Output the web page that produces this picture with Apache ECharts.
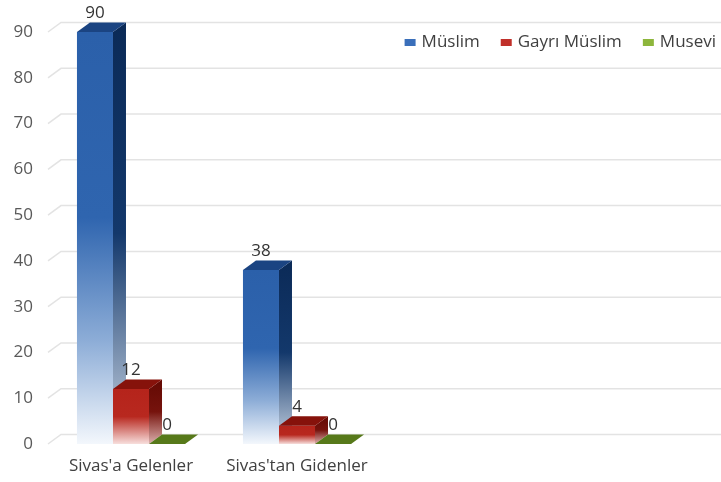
<!DOCTYPE html>
<html>
<head>
<meta charset="utf-8">
<script src="https://cdn.jsdelivr.net/npm/echarts@6/dist/echarts.min.js"></script>
<style>
html,body{margin:0;padding:0;background:#fff;}
#c{width:721px;height:482px;}
</style>
</head>
<body>
<div id="c"></div>
<script>
var categories = ["Sivas'a Gelenler", "Sivas'tan Gidenler"];
var seriesNames = ["Müslim", "Gayrı Müslim", "Musevi"];
var muslim = [90, 38];
var gayriMuslim = [12, 4];
var musevi = [0, 0];
var yTicks = [0, 10, 20, 30, 40, 50, 60, 70, 80, 90];

var FONT = "'Open Sans', sans-serif";
var DX = 13, DY = 9.5;

var palettes = [
  { legend: '#3a6fba', top: '#1b4482',
    front: [[0,'#2b60aa'],[0.45,'#2f65af'],[0.75,'#8dadd7'],[1,'#f3f7fc']],
    side: [[0,'#0b2a57'],[0.5,'#13386b'],[1,'#c9d5e4']] },
  { legend: '#c0302a', top: '#86120b',
    front: [[0,'#b5241b'],[0.5,'#b8281f'],[1,'#f7dedc']],
    side: [[0,'#630903'],[0.5,'#76130d'],[1,'#dcb0ae']] },
  { legend: '#8db63c', top: '#57791a',
    front: [[0,'#6d9a22'],[1,'#e8f0d8']],
    side: [[0,'#3f5a0c'],[1,'#c8d6a8']] }
];

function grad(stops) {
  return new echarts.graphic.LinearGradient(0, 0, 0, 1,
    stops.map(function (s) { return { offset: s[0], color: s[1] }; }));
}

function barRender(idx) {
  return function (params, api) {
    var cat = api.value(0);
    var val = api.value(1);
    var top = api.coord([cat, val]);
    var base = api.coord([cat, 0]);
    var band = api.size([1, 0])[0];
    var bw = band * 0.217;
    var x0 = top[0] - 1.5 * bw + idx * bw;
    var yT = top[1], yB = base[1];
    var p = palettes[idx];
    var children = [];
    var h = yB - yT;
    if (h > 0.5) {
      children.push({ type: 'rect', shape: { x: x0, y: yT, width: bw, height: h },
        style: { fill: grad(p.front) } });
      children.push({ type: 'polygon', shape: { points: [
        [x0 + bw, yT], [x0 + bw + DX, yT - DY], [x0 + bw + DX, yB - DY], [x0 + bw, yB]] },
        style: { fill: grad(p.side) } });
    }
    children.push({ type: 'polygon', shape: { points: [
      [x0, yT], [x0 + DX, yT - DY], [x0 + bw + DX, yT - DY], [x0 + bw, yT]] },
      style: { fill: p.top } });
    children.push({ type: 'text', style: {
      text: String(val), x: x0 + bw / 2, y: yT - DY - 1,
      align: 'center', verticalAlign: 'bottom',
      fill: '#333333', font: '17px ' + FONT } });
    return { type: 'group', children: children };
  };
}

function gridRender(params, api) {
  var y = api.coord([0, api.value(1)])[1];
  var x0 = params.coordSys.x;
  return { type: 'polyline', shape: { points: [
    [x0, y], [x0 + DX, y - DY], [api.getWidth(), y - DY]] },
    style: { stroke: '#e3e3e3', lineWidth: 1.5, fill: null } };
}

var datasets = [muslim, gayriMuslim, musevi];
var series = [{
  type: 'custom', name: '_grid', renderItem: gridRender, z: 1,
  silent: true, encode: { x: 0, y: 1 },
  data: yTicks.map(function (v) { return [0, v]; })
}];
datasets.forEach(function (d, i) {
  series.push({
    type: 'custom', name: seriesNames[i], renderItem: barRender(i), z: 2 + i,
    itemStyle: { color: palettes[i].legend },
    encode: { x: 0, y: 1 },
    data: d.map(function (v, k) { return [k, v]; })
  });
});

var chart = echarts.init(document.getElementById('c'));
chart.setOption({
  animation: false,
  backgroundColor: '#ffffff',
  textStyle: { fontFamily: FONT },
  grid: { left: 48, right: 341, top: 32, bottom: 38, containLabel: false },
  legend: {
    data: seriesNames.map(function (n) { return { name: n, icon: 'rect' }; }),
    right: 0, top: 29, itemWidth: 11, itemHeight: 7, itemGap: 21,
    textStyle: { fontSize: 17, color: '#404040', fontFamily: FONT, padding: [0, 0, 0, 1] }
  },
  xAxis: {
    type: 'category', data: categories,
    axisLine: { show: false }, axisTick: { show: false },
    axisLabel: { interval: 0, margin: 14, fontSize: 17, color: '#404040', fontFamily: FONT }
  },
  yAxis: {
    type: 'value', min: 0, max: 90, interval: 10,
    axisLine: { show: false }, axisTick: { show: false }, splitLine: { show: false },
    axisLabel: { margin: 15, fontSize: 17, color: '#595959', fontFamily: FONT }
  },
  series: series
});
</script>
</body>
</html>
